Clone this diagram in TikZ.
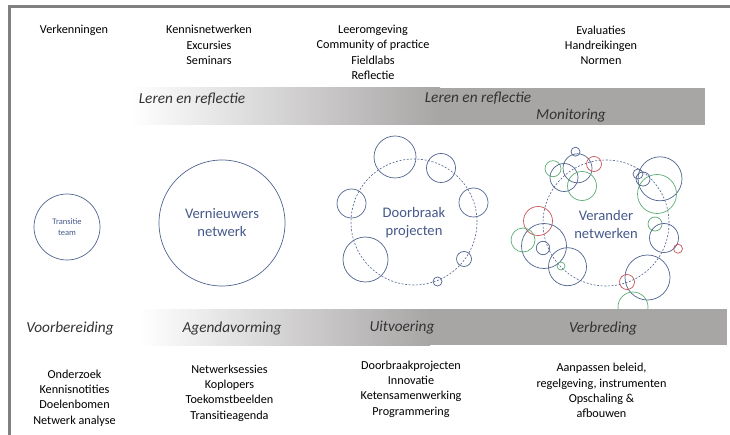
\documentclass[tikz,border=0pt]{standalone}
\usepackage{fontspec}
\setmainfont{Carlito}
\definecolor{bandgray}{HTML}{A8A5A5}
\definecolor{framegray}{RGB}{128,128,128}
\definecolor{cblue}{HTML}{50648F}
\definecolor{cgreen}{HTML}{5DAE74}
\definecolor{cred}{HTML}{C9555A}
\definecolor{ctext}{HTML}{45598A}
\begin{document}
\begin{tikzpicture}[x=1pt,y=-1pt,
  lst/.style={align=center,font=\fontsize{12.2}{15.3}\selectfont,inner sep=0pt},
  bandlbl/.style={font=\fontsize{15.3}{18}\selectfont\itshape,text=black!80,inner sep=0pt},
  biglbl/.style={align=center,font=\fontsize{14.6}{18}\selectfont,text=ctext,inner sep=0pt},
  bc/.style={draw=cblue,line width=0.7pt},
  gc/.style={draw=cgreen,line width=0.7pt},
  rc/.style={draw=cred,line width=0.7pt},
  dc/.style={draw=cblue,line width=0.6pt,dash pattern=on 2pt off 1.6pt}]
\path[fill=white] (0,0) rectangle (730,435);
% frame
\path[draw=framegray,line width=2.6pt] (9.3,436) -- (9.3,6.3) -- (731,6.3);

% Transitie team
\node[circle,draw=cblue,line width=0.7pt,minimum size=66pt,inner sep=0pt,align=center,
  font=\fontsize{8.5}{11}\selectfont,text=ctext] (tt) at (67,227) {Transitie\\team};
% Vernieuwers netwerk
\node[circle,draw=cblue,line width=0.7pt,minimum size=126pt,inner sep=0pt] (vn) at (222,223) {};
\node[biglbl] (vnl) at (222,223) {Vernieuwers\\netwerk};

% Doorbraak projecten
\node[circle,dc,minimum size=126pt,inner sep=0pt] (dp) at (414,222) {};
\node[biglbl] (dpl) at (414,223) {Doorbraak\\projecten};
\draw[bc] (395,157) circle[radius=21pt];
\draw[bc] (441,168) circle[radius=14.5pt];
\draw[bc] (473.5,202.5) circle[radius=14.5pt];
\draw[bc] (351.5,203.5) circle[radius=14.5pt];
\draw[bc] (365.5,259.5) circle[radius=22.5pt];
\draw[bc] (464,259) circle[radius=7.5pt];
\draw[bc] (437.5,281.5) circle[radius=4.5pt];

% Verander netwerken
\node[circle,dc,minimum size=126pt,inner sep=0pt] (vk) at (606,223) {};
\node[biglbl] (vkl) at (606,224) {Verander\\netwerken};
\draw[bc] (575.5,151.7) circle[radius=4.5pt];
\draw[gc] (553,168.7) circle[radius=8pt];
\draw[bc] (564,177.5) circle[radius=14pt];
\draw[bc] (577.5,168.3) circle[radius=14.5pt];
\draw[rc] (594,164) circle[radius=7.5pt];
\draw[gc] (582,186) circle[radius=14.5pt];
\draw[bc] (660,178.8) circle[radius=22pt];
\draw[gc] (657,194) circle[radius=19.5pt];
\draw[bc] (638,174) circle[radius=5pt];
\draw[bc] (643,179) circle[radius=7pt];
\draw[rc] (538,221) circle[radius=14.5pt];
\draw[bc] (544,246) circle[radius=22.5pt];
\draw[gc] (523,240) circle[radius=12pt];
\draw[bc] (543,248) circle[radius=6.7pt];
\draw[bc] (567.5,266.7) circle[radius=19pt];
\draw[gc] (561,266) circle[radius=4pt];
\draw[gc] (655,224) circle[radius=7pt];
\draw[bc] (664,238) circle[radius=14.5pt];
\draw[rc] (678,248.7) circle[radius=4.5pt];
\draw[bc] (647.5,277.5) circle[radius=22.5pt];
\draw[rc] (627,282) circle[radius=7.5pt];
\draw[gc] (633,307) circle[radius=15pt];

% bands
\shade[left color=white,right color=bandgray] (130,88) rectangle (440,125);
\fill[bandgray] (439.5,88) rectangle (705,125);
\shade[left color=white,right color=bandgray] (140,309) rectangle (430,345);
\fill[bandgray] (429.5,309) rectangle (727,345);

% band labels
\node[bandlbl] (b1) at (192,99) {Leren en reflectie};
\node[bandlbl] (b2) at (478,98) {Leren en reflectie};
\node[bandlbl] (b3) at (571,116) {Monitoring};
\node[bandlbl] (b4) at (70,328) {Voorbereiding};
\node[bandlbl] (b5) at (232,328) {Agendavorming};
\node[bandlbl] (b6) at (402,328) {Uitvoering};
\node[bandlbl] (b7) at (603,328) {Verbreding};

% top lists
\node[lst] (t1) at (74,30) {Verkenningen};
\node[lst] (t2) at (209,45) {Kennisnetwerken\\Excursies\\Seminars};
\node[lst] (t3) at (373,52.5) {Leeromgeving\\Community of practice\\Fieldlabs\\Reflectie};
\node[lst] (t4) at (601,45.5) {Evaluaties\\Handreikingen\\Normen};

% bottom lists
\node[lst] (l1) at (74.5,398) {Onderzoek\\Kennisnotities\\Doelenbomen\\Netwerk analyse};
\node[lst] (l2) at (229.5,393) {Netwerksessies\\Koplopers\\Toekomstbeelden\\Transitieagenda};
\node[lst] (l3) at (411,389) {Doorbraakprojecten\\Innovatie\\Ketensamenwerking\\Programmering};
\node[lst] (l4) at (601.5,390.5) {Aanpassen beleid,\\regelgeving, instrumenten\\Opschaling \&\\afbouwen};

\pgfresetboundingbox
\useasboundingbox (0,0) rectangle (730,435);
\end{tikzpicture}
\end{document}
